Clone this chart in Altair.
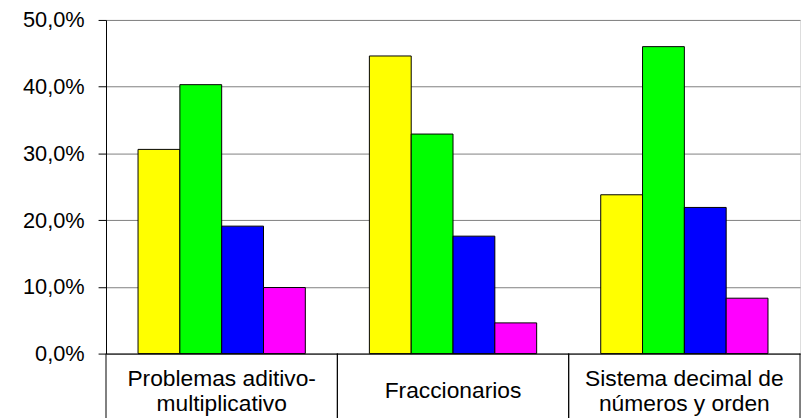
import altair as alt
import pandas as pd

categories = ["Problemas aditivo-multiplicativo", "Fraccionarios", "Sistema decimal de números y orden"]
cat_labels = ["Problemas aditivo-\nmultiplicativo", "Fraccionarios", "Sistema decimal de\nnúmeros y orden"]
series = ["Serie1", "Serie2", "Serie3", "Serie4"]
colors = ["#FFFF00", "#00FF00", "#0000FF", "#FF00FF"]
values = {
    "Serie1": [0.306, 0.446, 0.238],
    "Serie2": [0.403, 0.329, 0.460],
    "Serie3": [0.191, 0.176, 0.219],
    "Serie4": [0.099, 0.046, 0.083],
}
y_ticks = [0, 0.1, 0.2, 0.3, 0.4, 0.5]

rows = []
for s in series:
    for c, v in zip(categories, values[s]):
        rows.append({"cat": c, "serie": s, "valor": v})
df = pd.DataFrame(rows)
lab_df = pd.DataFrame({"cat": categories, "label": cat_labels})

FONT = "Liberation Sans"

x_scale = alt.Scale(domain=categories, paddingInner=0, paddingOuter=0)

bars = alt.Chart(df).mark_bar(stroke="black", strokeWidth=1).encode(
    x=alt.X("cat:N", scale=x_scale, sort=categories,
            axis=alt.Axis(title=None, labels=False, ticks=False, grid=False,
                          domainColor="black", domainWidth=1)),
    xOffset=alt.XOffset("serie:N", sort=series,
                        scale=alt.Scale(domain=series, paddingInner=0, paddingOuter=0.766)),
    y=alt.Y("valor:Q", scale=alt.Scale(domain=[0, 0.5], nice=False),
            axis=alt.Axis(title=None, values=y_ticks,
                          labelExpr="replace(format(datum.value, '.1%'), '.', ',')",
                          labelFont=FONT, labelFontSize=22, labelColor="black",
                          labelPadding=14, tickSize=8, tickColor="black",
                          domainColor="black", grid=True, gridColor="#808080",
                          gridWidth=1)),
    color=alt.Color("serie:N", scale=alt.Scale(domain=series, range=colors), legend=None),
)

rules_left = alt.Chart(lab_df).mark_rule(color="black", strokeWidth=1).encode(
    x=alt.X("cat:N", bandPosition=0, sort=categories),
    y=alt.value(337),
    y2=alt.value(420),
)
rules_right = alt.Chart(lab_df).mark_rule(color="black", strokeWidth=1).encode(
    x=alt.X("cat:N", bandPosition=1, sort=categories),
    y=alt.value(337),
    y2=alt.value(420),
)

text_style = dict(font=FONT, fontSize=23, color="black", baseline="middle",
                  align="center", lineBreak="\n", lineHeight=25)

texts_two = alt.Chart(lab_df).transform_filter(
    "indexof(datum.label, '\\n') >= 0"
).mark_text(**text_style).encode(
    x=alt.X("cat:N", sort=categories),
    y=alt.value(363),
    text="label:N",
)
texts_one = alt.Chart(lab_df).transform_filter(
    "indexof(datum.label, '\\n') < 0"
).mark_text(**text_style).encode(
    x=alt.X("cat:N", sort=categories),
    y=alt.value(375),
    text="label:N",
)

chart = alt.layer(bars, rules_left, rules_right, texts_two, texts_one).properties(
    width=701, height=337,
    autosize=alt.AutoSizeParams(type="none"),
    padding={"left": 99, "top": 10, "right": 3, "bottom": 63},
).configure_view(stroke="#808080", strokeWidth=1).configure(background="white")

chart.save("out.html", embed_options={"renderer": "svg", "actions": False})
